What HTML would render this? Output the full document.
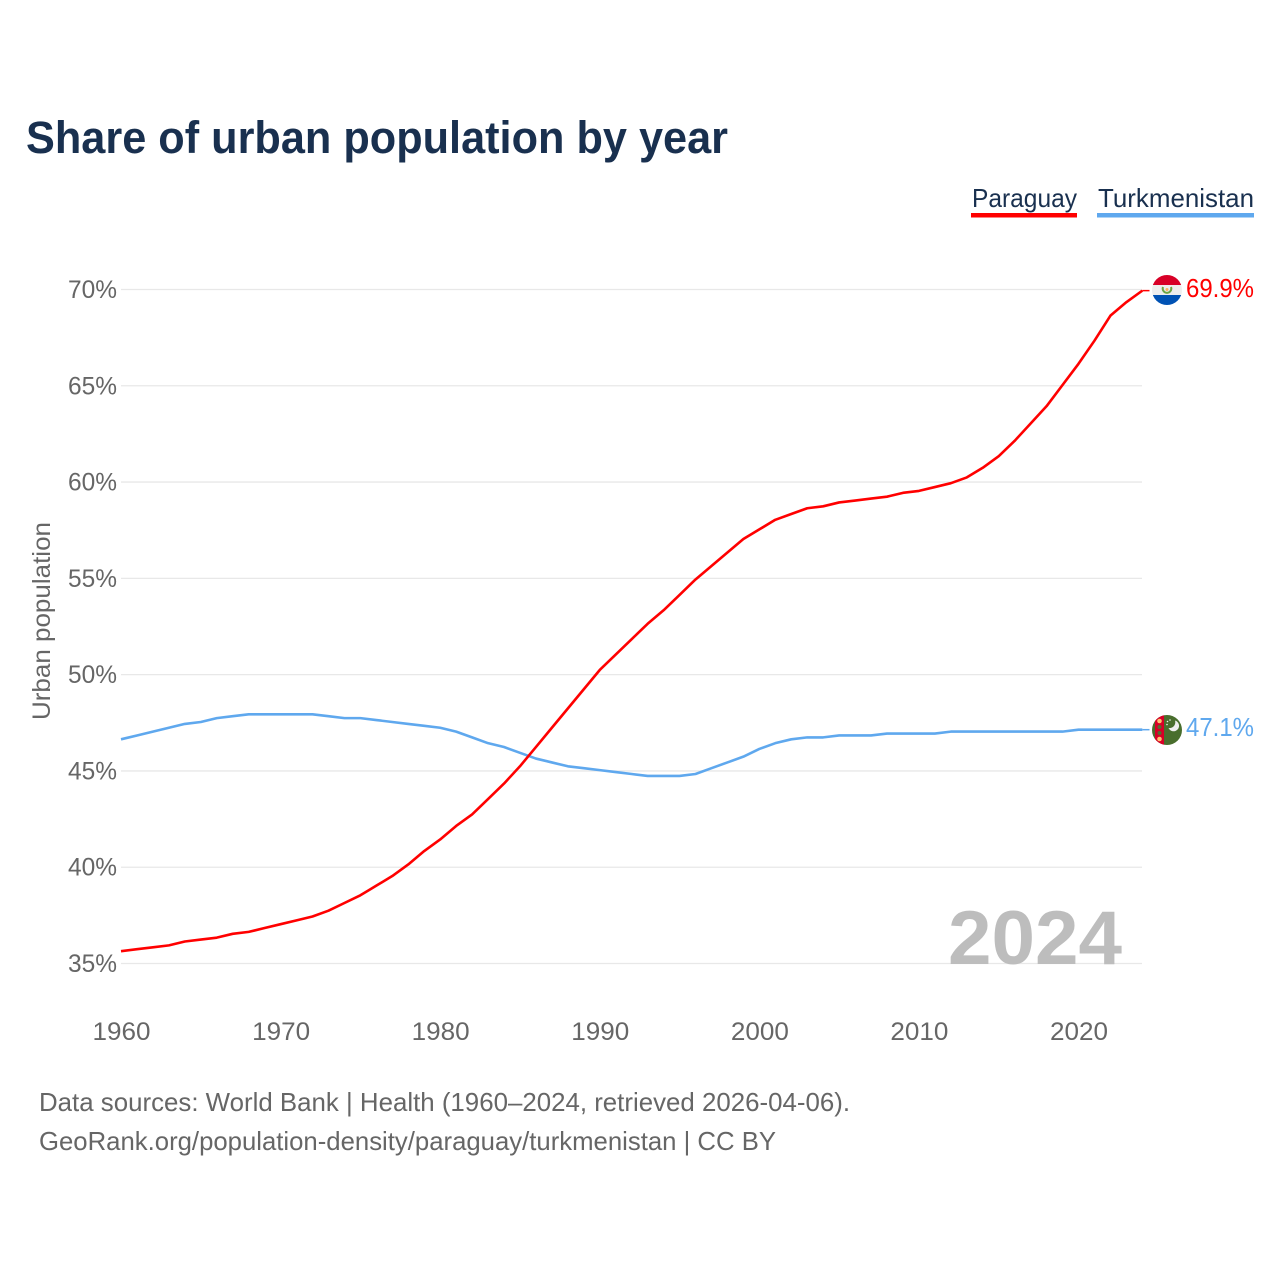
<!DOCTYPE html>
<html lang="en">
<head>
<meta charset="utf-8">
<title>Share of urban population by year</title>
<style>
html,body{margin:0;padding:0;background:#fff;width:1280px;height:1280px;overflow:hidden}
svg{display:block;font-family:"Liberation Sans",sans-serif}
</style>
</head>
<body>
<svg id="chart" xmlns="http://www.w3.org/2000/svg" width="1280" height="1280" viewBox="0 0 1280 1280">
  <defs>
    <clipPath id="clip-py"><circle cx="1167" cy="290" r="15"/></clipPath>
    <clipPath id="clip-tm"><circle cx="1167" cy="730" r="15"/></clipPath>
  </defs>
  <rect width="1280" height="1280" fill="#fff"/>
  <text x="26" y="153" font-size="45" font-weight="700" fill="#19304f" textLength="702" lengthAdjust="spacingAndGlyphs">Share of urban population by year</text>

  <g>
    <g>
      <text x="972" y="207" font-size="26" fill="#19304f" textLength="105" lengthAdjust="spacingAndGlyphs">Paraguay</text>
      <rect x="971" y="213" width="106" height="4.5" fill="#ff0000"/>
    </g>
    <g>
      <text x="1098" y="207" font-size="26" fill="#19304f" textLength="156" lengthAdjust="spacingAndGlyphs">Turkmenistan</text>
      <rect x="1097" y="213" width="157" height="4.5" fill="#5fa8ee"/>
    </g>
  </g>

  <g id="grid"></g>
  <g id="y-ticks"></g>
  <g id="x-ticks"></g>

  <text transform="translate(50,621) rotate(-90)" text-anchor="middle" font-size="25" fill="#666666" textLength="198" lengthAdjust="spacingAndGlyphs">Urban population</text>

  <text x="948" y="964" font-size="76" font-weight="700" fill="#bdbdbd" textLength="174" lengthAdjust="spacingAndGlyphs">2024</text>

  <g id="series"></g>

  <g>
    <g clip-path="url(#clip-py)">
      <rect x="1152" y="275" width="30" height="10" fill="#d80027"/>
      <rect x="1152" y="285" width="30" height="10" fill="#eeeeee"/>
      <rect x="1152" y="295" width="30" height="10" fill="#0052b4"/>
      <path d="M1163 287a4.300 4.300 0 1 0 8 0" fill="none" stroke="#6da544" stroke-width="2"/>
      <circle cx="1167" cy="289.500" r="1.500" fill="#ffb060"/>
    </g>
  </g>
  <g>
    <g clip-path="url(#clip-tm)">
      <rect x="1152" y="715" width="30" height="30" fill="#496e2d"/>
      <rect x="1155" y="715" width="9" height="30" fill="#d80027"/>
      <circle cx="1159.500" cy="721" r="2.300" fill="#ffc070"/>
      <circle cx="1159.500" cy="727" r="2" fill="#5a6a30"/>
      <circle cx="1159.500" cy="733" r="2" fill="#5a6a30"/>
      <circle cx="1159.500" cy="739" r="2.300" fill="#ffc070"/>
      <path d="M1175 720.500a5.500 5.500 0 1 1-6.500 7.500a5.800 5.800 0 0 0 6.500-7.500z" fill="#eeeeee"/>
      <circle cx="1170" cy="720" r="0.800" fill="#eeeeee"/>
      <circle cx="1167.500" cy="721.500" r="0.800" fill="#eeeeee"/>
      <circle cx="1167" cy="724.500" r="0.800" fill="#eeeeee"/>
    </g>
  </g>

  <text id="label-py" x="1186" y="297" font-size="26" fill="#ff0000" textLength="68" lengthAdjust="spacingAndGlyphs"></text>
  <text id="label-tm" x="1186" y="736" font-size="26" fill="#5fa8ee" textLength="68" lengthAdjust="spacingAndGlyphs"></text>

  <text x="39" y="1111" font-size="26" fill="#666666" textLength="811" lengthAdjust="spacingAndGlyphs">Data sources: World Bank | Health (1960–2024, retrieved 2026-04-06).</text>
  <text x="39" y="1150" font-size="26" fill="#666666" textLength="737" lengthAdjust="spacingAndGlyphs">GeoRank.org/population-density/paraguay/turkmenistan | CC BY</text>
</svg>
<script>
const startYear = 1960;
const xTickYears = [1960, 1970, 1980, 1990, 2000, 2010, 2020];
const yTickValues = [35, 40, 45, 50, 55, 60, 65, 70];
const paraguayValues = [
  35.6, 35.7, 35.8, 35.9, 36.1, 36.2, 36.3, 36.5, 36.6, 36.8,
  37.0, 37.2, 37.4, 37.7, 38.1, 38.5, 39.0, 39.5, 40.1, 40.8,
  41.4, 42.1, 42.7, 43.5, 44.3, 45.2, 46.2, 47.2, 48.2, 49.2,
  50.2, 51.0, 51.8, 52.6, 53.3, 54.1, 54.9, 55.6, 56.3, 57.0,
  57.5, 58.0, 58.3, 58.6, 58.7, 58.9, 59.0, 59.1, 59.2, 59.4,
  59.5, 59.7, 59.9, 60.2, 60.7, 61.3, 62.1, 63.0, 63.9, 65.0,
  66.1, 67.3, 68.6, 69.3, 69.9
];
const turkmenistanValues = [
  46.6, 46.8, 47.0, 47.2, 47.4, 47.5, 47.7, 47.8, 47.9, 47.9,
  47.9, 47.9, 47.9, 47.8, 47.7, 47.7, 47.6, 47.5, 47.4, 47.3,
  47.2, 47.0, 46.7, 46.4, 46.2, 45.9, 45.6, 45.4, 45.2, 45.1,
  45.0, 44.9, 44.8, 44.7, 44.7, 44.7, 44.8, 45.1, 45.4, 45.7,
  46.1, 46.4, 46.6, 46.7, 46.7, 46.8, 46.8, 46.8, 46.9, 46.9,
  46.9, 46.9, 47.0, 47.0, 47.0, 47.0, 47.0, 47.0, 47.0, 47.0,
  47.1, 47.1, 47.1, 47.1, 47.1
];

const NS = 'http://www.w3.org/2000/svg';
function xScale(year) { return 121 + (year - 1960) * (1078.5 - 121) / 60; }
function yScale(value) { return 963.5 - (value - 35) * (963.5 - 289.5) / 35; }
function lineY(value) { return yScale(value) - 0.8; }

const grid = document.getElementById('grid');
const yTicks = document.getElementById('y-ticks');
const xTicks = document.getElementById('x-ticks');
const seriesGroup = document.getElementById('series');

yTickValues.forEach(function (v) {
  const line = document.createElementNS(NS, 'line');
  
  
  line.setAttribute('x1', 121);
  line.setAttribute('x2', 1142);
  line.setAttribute('y1', yScale(v));
  line.setAttribute('y2', yScale(v));
  line.setAttribute('stroke', '#e8e8e8');
  line.setAttribute('stroke-width', '1.3');
  grid.appendChild(line);

  const label = document.createElementNS(NS, 'text');
  
  
  label.setAttribute('x', 117);
  label.setAttribute('y', yScale(v) + 8.5);
  label.setAttribute('text-anchor', 'end');
  label.setAttribute('font-size', '25');
  label.setAttribute('fill', '#666666');
  label.setAttribute('textLength', '49');
  label.setAttribute('lengthAdjust', 'spacingAndGlyphs');
  label.textContent = v + '%';
  yTicks.appendChild(label);
});

xTickYears.forEach(function (yr) {
  const label = document.createElementNS(NS, 'text');
  
  
  label.setAttribute('x', xScale(yr) + 0.5);
  label.setAttribute('y', 1040);
  label.setAttribute('text-anchor', 'middle');
  label.setAttribute('font-size', '25');
  label.setAttribute('fill', '#666666');
  label.setAttribute('textLength', '58');
  label.setAttribute('lengthAdjust', 'spacingAndGlyphs');
  label.textContent = yr;
  xTicks.appendChild(label);
});

function linePoints(values) {
  return values.map(function (v, i) {
    return xScale(startYear + i).toFixed(2) + ',' + lineY(v).toFixed(2);
  }).join(' ');
}

function lastYear(values) { return startYear + values.length - 1; }

const pyLine = document.createElementNS(NS, 'polyline');


pyLine.setAttribute('points', linePoints(paraguayValues));
pyLine.setAttribute('fill', 'none');
pyLine.setAttribute('stroke', '#ff0000');
pyLine.setAttribute('stroke-width', '2.6');
pyLine.setAttribute('stroke-linejoin', 'round');

const tmLine = document.createElementNS(NS, 'polyline');


tmLine.setAttribute('points', linePoints(turkmenistanValues));
tmLine.setAttribute('fill', 'none');
tmLine.setAttribute('stroke', '#5fa8ee');
tmLine.setAttribute('stroke-width', '2.6');
tmLine.setAttribute('stroke-linejoin', 'round');

const pyLast = paraguayValues[paraguayValues.length - 1];
const tmLast = turkmenistanValues[turkmenistanValues.length - 1];

const pyConnector = document.createElementNS(NS, 'line');


pyConnector.setAttribute('x1', xScale(lastYear(paraguayValues)));
pyConnector.setAttribute('x2', 1149.5);
pyConnector.setAttribute('y1', lineY(pyLast));
pyConnector.setAttribute('y2', lineY(pyLast));
pyConnector.setAttribute('stroke', '#ff0000');
pyConnector.setAttribute('stroke-width', '1.5');

const tmConnector = document.createElementNS(NS, 'line');


tmConnector.setAttribute('x1', xScale(lastYear(turkmenistanValues)));
tmConnector.setAttribute('x2', 1149.5);
tmConnector.setAttribute('y1', lineY(tmLast));
tmConnector.setAttribute('y2', lineY(tmLast));
tmConnector.setAttribute('stroke', '#5fa8ee');
tmConnector.setAttribute('stroke-width', '1.5');

seriesGroup.appendChild(tmLine);
seriesGroup.appendChild(pyLine);
seriesGroup.appendChild(tmConnector);
seriesGroup.appendChild(pyConnector);

document.getElementById('label-py').textContent = pyLast.toFixed(1) + '%';
document.getElementById('label-tm').textContent = tmLast.toFixed(1) + '%';
</script>
</body>
</html>
